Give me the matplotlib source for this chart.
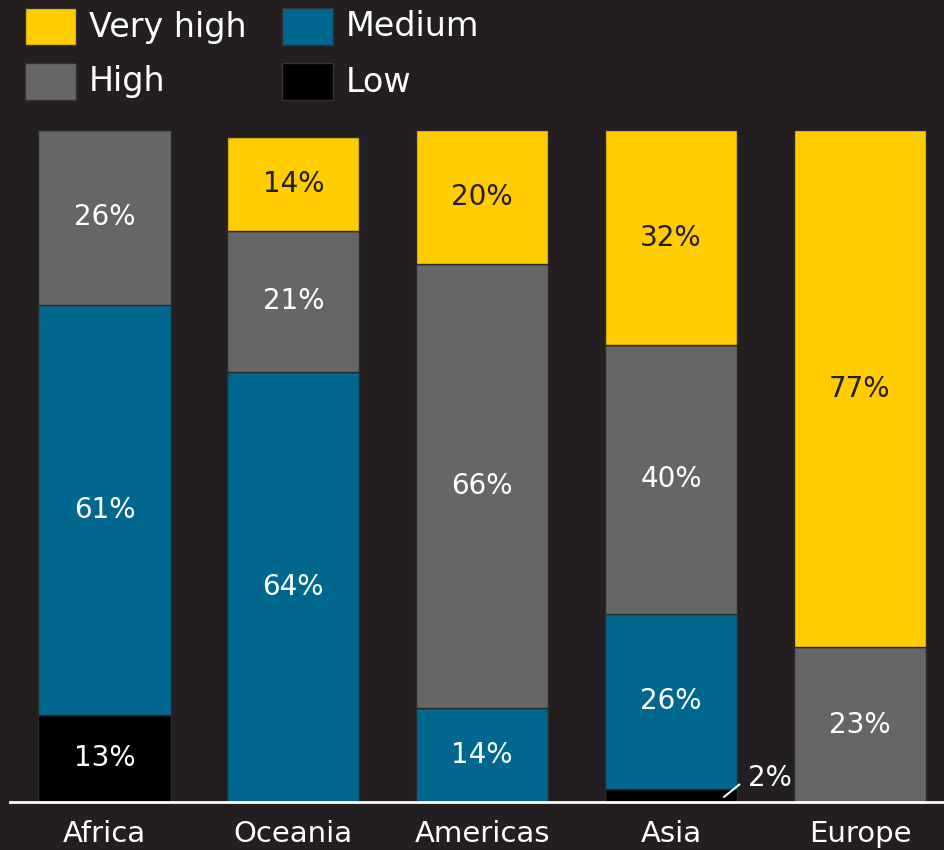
import matplotlib
matplotlib.use("Agg")
import matplotlib.pyplot as plt
from matplotlib.patches import Rectangle

plt.rcParams['font.family'] = ['DejaVu Sans']

regions = ["Africa", "Oceania", "Americas", "Asia", "Europe"]
levels = ["Low", "Medium", "High", "Very high"]
low = [13, 0, 0, 2, 0]
medium = [61, 64, 14, 26, 0]
high = [26, 21, 66, 40, 23]
very_high = [0, 14, 20, 32, 77]

BG = "#231F20"
colors = {"Very high": "#FFCC00", "Medium": "#00678F", "High": "#666666", "Low": "#000000"}
text_colors = {"Very high": BG, "Medium": "white", "High": "white", "Low": "white"}

fig = plt.figure(figsize=(9.45, 8.5), dpi=100, facecolor=BG)
ax = fig.add_axes([10 / 945, 48 / 850, 935 / 945, 672 / 850])
ax.set_facecolor(BG)

x = list(range(len(regions)))
bottom = [0] * len(regions)
series = {"Low": low, "Medium": medium, "High": high, "Very high": very_high}
for lvl in levels:
    vals = series[lvl]
    ax.bar(x, vals, width=0.7, bottom=bottom, color=colors[lvl],
           edgecolor="#2b2b2b", linewidth=1)
    for i, v in enumerate(vals):
        if v == 0:
            continue
        if v >= 5:
            ax.text(i, bottom[i] + v / 2, f"{v}%", ha="center", va="center",
                    fontsize=20, color=text_colors[lvl])
        else:
            # small segment: label outside with a leader line
            ax.annotate(f"{v}%", xy=(i + 0.28, bottom[i] + v / 2 - 0.25),
                        xytext=(i + 0.405, bottom[i] + v / 2 + 2.6),
                        ha="left", va="center", fontsize=20, color="white",
                        arrowprops=dict(arrowstyle="-", color="white", lw=1.5,
                                        relpos=(0, 0.5), shrinkA=5, shrinkB=0))
    bottom = [b + v for b, v in zip(bottom, vals)]

ax.set_xlim(-0.5, 4.45)
ax.set_ylim(0, 100)
ax.set_xticks(x)
ax.set_xticklabels(regions, fontsize=21, color="white")
ax.tick_params(axis="x", length=0, pad=13)
ax.set_yticks([])
for side in ["top", "right", "left"]:
    ax.spines[side].set_visible(False)
ax.spines["bottom"].set_color("white")
ax.spines["bottom"].set_linewidth(2)

# legend, two columns
legend_items = [("Very high", 25, 8), ("High", 25, 63), ("Medium", 282, 8), ("Low", 282, 63)]
for name, px, py in legend_items:
    fig.patches.append(Rectangle((px / 945, 1 - (py + 37) / 850), 51 / 945, 37 / 850,
                                 transform=fig.transFigure, facecolor=colors[name],
                                 edgecolor="#333333", linewidth=1))
    fig.text((px + 64) / 945, 1 - (py + 19) / 850, name, fontsize=24,
             color="white", ha="left", va="center")

fig.savefig("out.png", dpi=100, facecolor=BG)
